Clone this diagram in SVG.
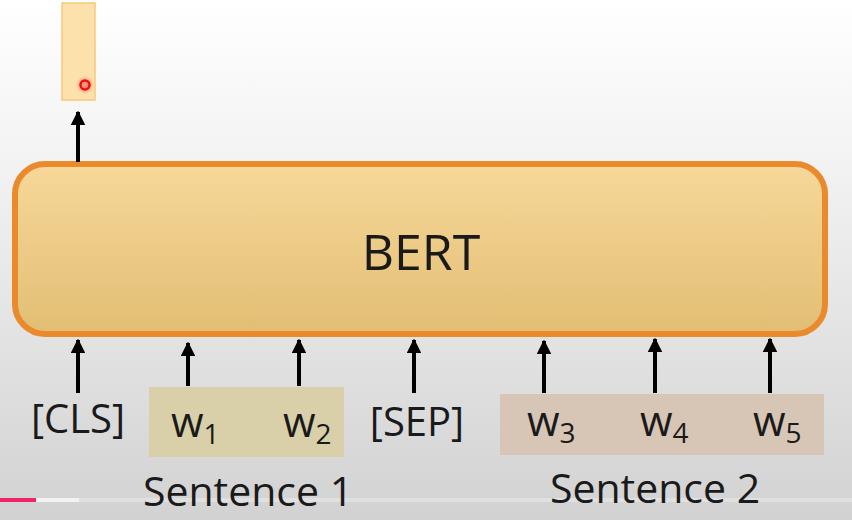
<svg xmlns="http://www.w3.org/2000/svg" width="852" height="520" viewBox="0 0 852 520">
<defs>
<linearGradient id="bg" x1="0" y1="0" x2="0" y2="1">
<stop offset="0" stop-color="#ffffff"/>
<stop offset="0.3" stop-color="#f3f3f3"/>
<stop offset="1" stop-color="#d2d2d2"/>
</linearGradient>
<linearGradient id="bert" x1="0" y1="0" x2="0" y2="1">
<stop offset="0" stop-color="#f7d899"/>
<stop offset="1" stop-color="#e2be74"/>
</linearGradient>
<radialGradient id="glow">
<stop offset="0.4" stop-color="#ff4040" stop-opacity="0.5"/>
<stop offset="1" stop-color="#ff4040" stop-opacity="0"/>
</radialGradient>
<marker id="ah" viewBox="0 0 10 10" refX="9" refY="5" markerWidth="3.6" markerHeight="3.6" orient="auto" markerUnits="strokeWidth">
<path d="M0,0 L10,5 L0,10 Z" fill="#000"/>
</marker>
</defs>
<style>
.t{font-family:"Open Sans","Noto Sans",sans-serif;fill:#1a1a1a}
.a{stroke:#000;stroke-width:4;fill:none;marker-end:url(#ah)}
</style>
<rect width="852" height="520" fill="url(#bg)"/>
<g id="progress">
<rect x="0" y="498" width="852" height="4" fill="#e6e6e6" opacity="0.7"/>
<rect x="36" y="498" width="43" height="4" fill="#f2f2f2"/>
<rect x="0" y="498" width="36" height="4" fill="#f0246c"/>
</g>
<g id="output">
<rect x="62" y="3" width="33" height="97" fill="#fde1ad" stroke="#f6c979" stroke-width="1.5"/>
<circle cx="85" cy="85" r="9" fill="url(#glow)"/>
<circle cx="85" cy="85" r="4.5" fill="none" stroke="#ee1111" stroke-width="2.5"/>
</g>
<g id="bert-node">
<rect x="15" y="164" width="810" height="170" rx="30" fill="url(#bert)" stroke="#ea8a2c" stroke-width="6"/>
<text class="t" x="421" y="270" font-size="50" text-anchor="middle">BERT</text>
</g>
<g id="sentence1">
<rect x="149" y="387" width="195" height="70" fill="#d9cfa9"/>
<text class="t" x="248" y="506" font-size="41" text-anchor="middle">Sentence 1</text>
</g>
<g id="sentence2">
<rect x="500" y="394" width="324" height="61" fill="#d7c5b5"/>
<text class="t" x="655" y="503" font-size="41" text-anchor="middle">Sentence 2</text>
</g>
<g id="tokens">
<text class="t" x="78" y="433" font-size="40" text-anchor="middle">[CLS]</text>
<text class="t" x="171" y="437" font-size="42">w<tspan font-size="28" dy="7">1</tspan></text>
<text class="t" x="283" y="437" font-size="42">w<tspan font-size="28" dy="7">2</tspan></text>
<text class="t" x="417" y="436" font-size="40" text-anchor="middle">[SEP]</text>
<text class="t" x="527" y="436" font-size="42">w<tspan font-size="28" dy="7">3</tspan></text>
<text class="t" x="640" y="436" font-size="42">w<tspan font-size="28" dy="7">4</tspan></text>
<text class="t" x="753" y="436" font-size="42">w<tspan font-size="28" dy="7">5</tspan></text>
</g>
<g id="connectors">
<line class="a" x1="78" y1="162" x2="78" y2="112"/>
<line class="a" x1="78" y1="393" x2="78" y2="340"/>
<line class="a" x1="188" y1="386" x2="188" y2="343"/>
<line class="a" x1="299" y1="386" x2="299" y2="340"/>
<line class="a" x1="414" y1="393" x2="414" y2="340"/>
<line class="a" x1="544" y1="393" x2="544" y2="341"/>
<line class="a" x1="655" y1="393" x2="655" y2="339"/>
<line class="a" x1="770" y1="393" x2="770" y2="339"/>
</g>
</svg>
